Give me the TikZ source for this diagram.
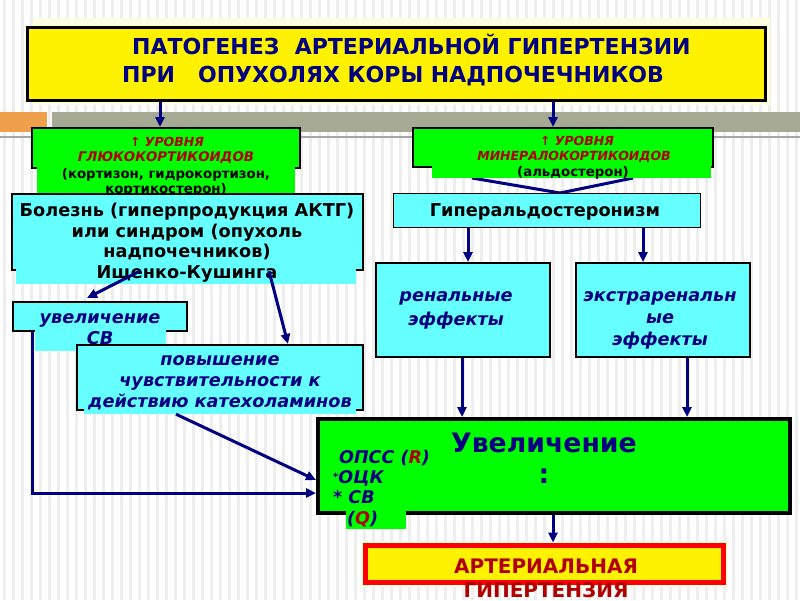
\documentclass[tikz,border=0pt]{standalone}
\usepackage{fontspec}
\setmainfont{DejaVu Sans}
\usetikzlibrary{arrows.meta}
\definecolor{navy}{HTML}{000080}
\definecolor{dred}{HTML}{B00000}
\definecolor{cy}{HTML}{66FFFF}
\definecolor{lime}{HTML}{00FF00}
\definecolor{band}{HTML}{A6AA94}
\definecolor{org}{HTML}{F0A04B}
\definecolor{stripe}{HTML}{EEEEEE}
\definecolor{glow}{HTML}{FFFFE0}
\newcommand\fsz[2]{\fontsize{#1}{#2}\selectfont}
\begin{document}
\begin{tikzpicture}[x=1pt,y=-1pt,
  cbox/.style={draw=black, line width=2pt, fill=cy, inner sep=0pt},
  gbox/.style={draw=black, line width=2pt, fill=lime, inner sep=0pt},
  cext/.style={fill=cy, draw=none, inner sep=0pt},
  gext/.style={fill=lime, draw=none, inner sep=0pt},
  txt/.style={inner sep=0pt, align=center},
  arr/.style={draw=navy, line width=3pt, -{Triangle[length=10pt,width=9pt]}},
  lnk/.style={draw=navy, line width=3pt}]
\useasboundingbox (0,0) rectangle (800,600);
\clip (0,0) rectangle (800,600);
% background
\fill[white] (0,0) rectangle (800,600);
\foreach \i in {0,...,88} {\fill[stripe] (\i*9+3,0) rectangle (\i*9+6,600);}
\fill[band] (52,112) rectangle (800,132);
\fill[org] (0,112) rectangle (47,132);
\draw[gray!70, line width=2pt] (0,137) -- (800,137);
\fill[glow] (33,18) rectangle (770,105);
\fill[glow] (361,541) rectangle (728,587);

% x positions for connectors
\coordinate (x160) at (160,0);
\coordinate (x553) at (553,0);
\coordinate (x472) at (472,0);
\coordinate (x633) at (633,0);
\coordinate (x560) at (560,0);
\coordinate (x140) at (140,0);
\coordinate (x87) at (87,0);
\coordinate (x269) at (269,0);
\coordinate (x288) at (288,0);
\coordinate (x176) at (176,0);
\coordinate (y480) at (0,480);
\coordinate (x32) at (32,0);
\coordinate (y493) at (0,493);
\coordinate (x468) at (468,0);
\coordinate (x643) at (643,0);
\coordinate (x462) at (462,0);
\coordinate (x687) at (687,0);

% title
\node[draw=black, line width=3pt, fill=yellow, minimum width=738pt, minimum height=73pt, inner sep=0pt] (title) at (396,63.5) {};
\node[anchor=base west, inner sep=0pt, font=\fsz{22}{26}\bfseries, text=navy] (t1) at (132,54) {ПАТОГЕНЕЗ\ \ АРТЕРИАЛЬНОЙ ГИПЕРТЕНЗИИ};
\node[anchor=base west, inner sep=0pt, font=\fsz{22}{26}\bfseries, text=navy] (t2) at (122,82) {ПРИ\ \ \ ОПУХОЛЯХ КОРЫ НАДПОЧЕЧНИКОВ};

% left green box
\node[gbox, minimum width=268pt, minimum height=40pt] (lg) at (166,148) {};
\node[gext, minimum width=258pt, minimum height=28pt] (lgx) at (166,180.5) {};
\node[txt, font=\fsz{12.5}{14}\bfseries\itshape, text=dred] (lg1) at (167,142) {↑ УРОВНЯ};
\node[txt, font=\fsz{13.3}{15}\bfseries\itshape, text=dred] (lg2) at (166,158) {ГЛЮКОКОРТИКОИДОВ};
\node[txt, font=\fsz{13.3}{15.5}\bfseries] (lg3) at (166,182.5) {(кортизон, гидрокортизон,\\кортикостерон)};

% right green box
\draw[lnk] (x472 |- 0,178) -- (x560 |- 0,193);
\draw[lnk] (x633 |- 0,178) -- (x560 |- 0,193);
\node[gbox, minimum width=300pt, minimum height=39pt] (rg) at (563,147.5) {};
\node[gext, minimum width=279pt, minimum height=13pt] (rgx) at (571.5,171.5) {};
\node[txt, font=\fsz{12.5}{14}\bfseries\itshape, text=dred] (rg1) at (577,141) {↑ УРОВНЯ};
\node[txt, font=\fsz{12.5}{14}\bfseries\itshape, text=dred] (rg2) at (574,157) {МИНЕРАЛОКОРТИКОИДОВ};
\node[txt, font=\fsz{13.3}{15}\bfseries] (rg3) at (573,173) {(альдостерон)};

% disease box
\node[cbox, minimum width=351pt, minimum height=76pt] (bol) at (187.5,232) {};
\node[cext, minimum width=340pt, minimum height=15pt] (bolx) at (186,276) {};
\node[txt, font=\fsz{17.7}{20.5}\bfseries] (bolt) at (187,242.5) {Болезнь (гиперпродукция АКТГ)\\или синдром (опухоль\\надпочечников)\\Ищенко-Кушинга};

% hyperaldosteronism
\node[draw=black, line width=1pt, fill=cy, minimum width=307pt, minimum height=34pt, inner sep=0pt] (hyp) at (546.5,210) {};
\node[txt, font=\fsz{17.7}{20}\bfseries] (hypt) at (545,212) {Гиперальдостеронизм};

% renal / extrarenal
\node[cbox, minimum width=174pt, minimum height=94pt] (ren) at (463,310) {};
\node[txt, font=\fsz{17.7}{24}\bfseries\itshape, text=navy] (rent) at (456,310) {ренальные\\эффекты};
\node[cbox, minimum width=174pt, minimum height=94pt] (ext) at (663,310) {};
\node[txt, font=\fsz{17.7}{22}\bfseries\itshape, text=navy] (extt) at (660,320) {экстраренальн\\ые\\эффекты};

% increase CO
\node[cbox, minimum width=174pt, minimum height=29pt] (uv) at (100,316.5) {};
\node[cext, minimum width=131pt, minimum height=21pt] (uvx) at (100.5,340.5) {};
\node[txt, font=\fsz{17.7}{21}\bfseries\itshape, text=navy] (uvt) at (100,329.5) {увеличение\\СВ};

% sensitivity
\node[cbox, minimum width=286pt, minimum height=65pt] (pov) at (220,377.5) {};
\node[cext, minimum width=272pt, minimum height=20pt] (povx) at (220,404) {};
\node[txt, font=\fsz{17.7}{21}\bfseries\itshape, text=navy] (povt) at (220,383) {повышение\\чувствительности к\\действию катехоламинов};

% big green box
\node[draw=black, line width=4pt, fill=lime, minimum width=472pt, minimum height=94pt, inner sep=0pt] (gr) at (554,466) {};
\node[gext, minimum width=60pt, minimum height=18pt] (grx) at (376,520) {};
\node[txt, font=\fsz{26.7}{30}\bfseries, text=navy] (grt) at (544,443) {Увеличение};
\node[txt, font=\fsz{26.7}{30}\bfseries, text=navy] (grc) at (544,476) {:};
\node[anchor=west, inner sep=0pt, font=\fsz{17.5}{18}\bfseries\itshape, text=navy] (g1) at (339,458) {ОПСС (\textcolor{dred}{R})};
\node[anchor=west, inner sep=0pt, font=\fsz{17.5}{18}\bfseries\itshape, text=navy] (g2) at (333,478) {\raisebox{3pt}{\fsz{10}{10}*}ОЦК};
\node[anchor=west, inner sep=0pt, font=\fsz{17.5}{18}\bfseries\itshape, text=navy] (g3) at (333,497) {* СВ};
\node[anchor=west, inner sep=0pt, font=\fsz{17.5}{18}\bfseries\itshape, text=navy] (g4) at (347,519) {(\textcolor{dred}{Q})};

% result box
\node[draw=red, line width=5pt, fill=yellow, minimum width=358pt, minimum height=37pt, inner sep=0pt] (res) at (544,563.5) {};
\node[txt, font=\fsz{20}{24}\bfseries, text=dred] (rest) at (546,578) {АРТЕРИАЛЬНАЯ\\ГИПЕРТЕНЗИЯ};

% connectors
\draw[arr] (title.south -| x160) -- (lg.north -| x160);
\draw[arr] (title.south -| x553) -- (rg.north -| x553);
\draw[arr] (bol.south -| x140) -- ([yshift=3pt]uv.north -| x87);
\draw[arr] (bol.south -| x269) -- (pov.north -| x288);
\draw[arr] (povx.south -| x176) -- (gr.west |- y480);
\draw[arr] (uv.south -| x32) |- (gr.west |- y493);
\draw[arr] (hyp.south -| x468) -- (ren.north -| x468);
\draw[arr] (hyp.south -| x643) -- (ext.north -| x643);
\draw[arr] (ren.south -| x462) -- (gr.north -| x462);
\draw[arr] (ext.south -| x687) -- (gr.north -| x687);
\draw[arr] (gr.south -| x553) -- (res.north -| x553);
\end{tikzpicture}
\end{document}
